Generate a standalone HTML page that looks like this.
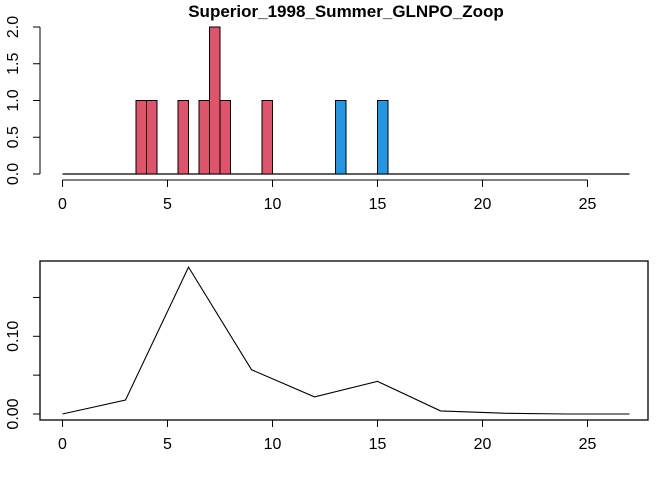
<!DOCTYPE html>
<html><head><meta charset="utf-8"><style>body{margin:0;background:#fff}svg{display:block;font-family:"Liberation Sans",Arial,sans-serif}</style></head>
<body>
<svg id="c" width="672" height="480" xmlns="http://www.w3.org/2000/svg"></svg>
<script>
const binStarts=[3.5,4,5.5,6.5,7,7.5,9.5,13,15.0];
const binCounts=[1,1,1,1,2,1,1,1,1];
const binGroups=["a","a","a","a","a","a","a","b","b"];
const binWidth=0.5;
const densX=[0,3,6,9,12,15,18,21,24,27];
const densY=[0,0.018,0.189,0.057,0.022,0.042,0.004,0.001,0,0];
const xTicks=[0,5,10,15,20,25];
const yTicksTop=[0,0.5,1,1.5,2];
const yTicksBot=[0,0.05,0.1,0.15];
const yLabelsBot=["0.00","","0.10",""];
const NS="http://www.w3.org/2000/svg";
const svg=document.getElementById('c');
function el(t,a,p){const e=document.createElementNS(NS,t);for(const k in a)e.setAttribute(k,a[k]);(p||svg).appendChild(e);return e;}
const X=v=>62.5+v*21;
const Yt=v=>174-v*73.5;
const Yb=v=>414-v*777;
let t=el('text',{x:346,y:17,'text-anchor':'middle','font-size':17,'font-weight':'bold'});t.textContent='Superior_1998_Summer_GLNPO_Zoop';


// top baseline
let b=el('line',{x1:X(0),x2:X(27),y1:174,y2:174,stroke:'#000','stroke-width':1.3});


binStarts.forEach((s,i)=>{const r=el('rect',{x:X(s),y:Yt(binCounts[i]),width:X(s+binWidth)-X(s),height:174-Yt(binCounts[i]),fill:binGroups[i]==='a'?'#DF536B':'#2297E6',stroke:'#000','stroke-width':1});

});
function xAxis(y,name){const g=el('g',{});
el('line',{x1:X(0),x2:X(25),y1:y,y2:y,stroke:'#000'},g);
xTicks.forEach(v=>{el('line',{x1:X(v),x2:X(v),y1:y,y2:y+7,stroke:'#000'},g);const tx=el('text',{x:X(v),y:y+29,'text-anchor':'middle','font-size':16},g);tx.textContent=v;});}
xAxis(180,'top-x-axis');
xAxis(420,'bottom-x-axis');
// top y axis
const gy=el('g',{});
el('line',{x1:40,x2:40,y1:Yt(0),y2:Yt(2),stroke:'#000'},gy);
yTicksTop.forEach(v=>{el('line',{x1:33,x2:40,y1:Yt(v),y2:Yt(v),stroke:'#000'},gy);const tx=el('text',{x:0,y:0,'text-anchor':'middle','font-size':16,transform:`translate(18,${Yt(v)}) rotate(-90)`},gy);tx.textContent=v.toFixed(1);});
// bottom box
const bx=el('rect',{x:40,y:261,width:608,height:159,fill:'none',stroke:'#000','stroke-width':1.3});


const gb=el('g',{});
yTicksBot.forEach((v,i)=>{el('line',{x1:33,x2:40,y1:Yb(v),y2:Yb(v),stroke:'#000'},gb);if(yLabelsBot[i]){const tx=el('text',{x:0,y:0,'text-anchor':'middle','font-size':16,transform:`translate(18,${Yb(v)}) rotate(-90)`},gb);tx.textContent=yLabelsBot[i];}});
const ln=el('polyline',{points:densX.map((x,i)=>X(x)+','+Yb(densY[i])).join(' '),fill:'none',stroke:'#000','stroke-width':1.1});


</script>
</body></html>
